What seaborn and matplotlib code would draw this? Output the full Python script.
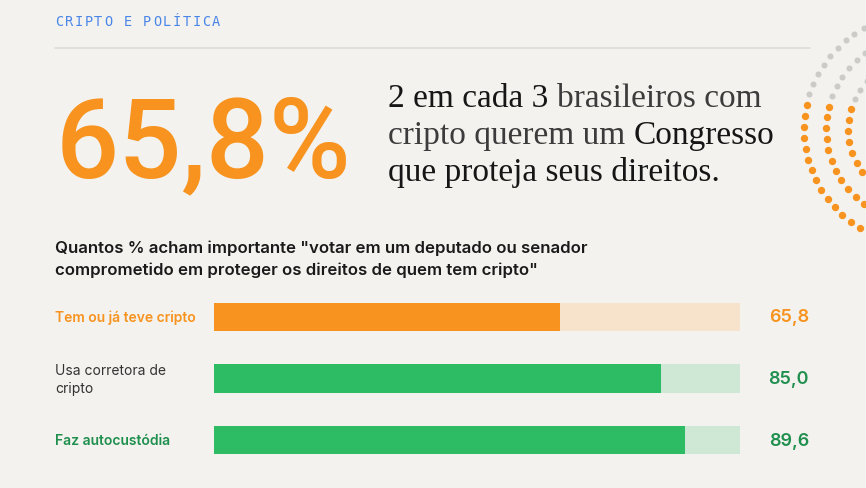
import numpy as np
import pandas as pd
import seaborn as sns
import matplotlib.pyplot as plt

# dados
categorias = ["Tem ou já teve cripto", "Usa corretora de\ncripto", "Faz autocustódia"]
valores = [65.8, 85.0, 89.6]
rotulos_valor = ["65,8", "85,0", "89,6"]
total = [100, 100, 100]

cor_barra = ["#F7931E", "#2DBB63", "#2DBB63"]
cor_fundo = ["#F7E2CB", "#CFE8D6", "#CFE8D6"]
cor_texto = ["#F7931E", "#333333", "#1F8F4E"]
peso_texto = ["semibold", "normal", "semibold"]
cor_valor = ["#F7931E", "#1F8F4E", "#1F8F4E"]

destaque = "65,8%"
titulo = 'Quantos % acham importante "votar em um deputado ou senador\ncomprometido em proteger os direitos de quem tem cripto"'
secao = "CRIPTO E POLÍTICA"

BG = "#F3F2EE"
W, H = 866, 489

sns.set_theme(style="white")
plt.rcParams['font.family'] = ['Inter', 'DejaVu Sans']

fig = plt.figure(figsize=(W / 100, H / 100), dpi=100, facecolor=BG)

# eixo de fundo em pixels
base = fig.add_axes([0, 0, 1, 1])
base.set_xlim(0, W)
base.set_ylim(H, 0)
base.axis("off")
base.set_facecolor(BG)

# cabecalho
for i, ch in enumerate(secao):
    base.text(55 + i * 9.8, 22, ch, fontsize=9.8, family="DejaVu Sans Mono",
              color="#4A86E8", va="center", ha="left")
base.plot([55, 810], [49, 49], color="#DCDCDA", lw=1.2)

# numero grande
base.text(56, 177, destaque, fontsize=80, family="Roboto", weight="medium", color="#F7931E",
          va="baseline", ha="left")

# frase em serifa com pesos diferentes
r = fig.canvas.get_renderer()


def largura(s, **kw):
    t = base.text(0, 0, s, **kw)
    w = t.get_window_extent(r).width
    t.remove()
    return w


linhas = [
    [("2 em cada 3 ", "#161616"), ("brasileiros com", "#3C3C3C")],
    [("cripto querem um ", "#3C3C3C"), ("Congresso", "#161616")],
    [("que proteja seus direitos.", "#161616")],
]
kw = dict(fontsize=24, family="Liberation Serif")
for j, partes in enumerate(linhas):
    prefixo = ""
    for texto, cor in partes:
        dx = largura(prefixo + "x", **kw) - largura("x", **kw) if prefixo else 0
        base.text(388 + dx, 107 + j * 37, texto, color=cor, va="baseline", ha="left", **kw)
        prefixo += texto

# arcos pontilhados
cx, cy = 919, 130
for raio, ini in [(115, 168), (93, 166), (71, 164)]:
    passo = np.degrees(11 / raio)
    th_l = ini + passo * np.arange(0, 30)
    th_g = ini - passo * np.arange(1, 20)
    base.scatter(cx + raio * np.cos(np.radians(th_g)), cy - raio * np.sin(np.radians(th_g)),
                 s=19, color="#CBCBC9", linewidths=0, zorder=3)
    base.scatter(cx + raio * np.cos(np.radians(th_l)), cy - raio * np.sin(np.radians(th_l)),
                 s=28, color="#F7931E", linewidths=0, zorder=3)

# pergunta
base.text(55, 259, titulo, fontsize=12.1, weight="semibold", color="#1A1A1A",
          va="center", ha="left", linespacing=1.5)

# barras
ax = fig.add_axes([214 / W, 1 - 471.75 / H, (740 - 214) / W, 184.5 / H])
df = pd.DataFrame({"cat": categorias, "valor": valores, "total": total})
sns.barplot(data=df, x="total", y="cat", hue="cat", palette=cor_fundo, saturation=1,
            width=0.47, legend=False, ax=ax, orient="h", linewidth=0)
sns.barplot(data=df, x="valor", y="cat", hue="cat", palette=cor_barra, saturation=1,
            width=0.47, legend=False, ax=ax, orient="h", linewidth=0)
ax.set_xlim(0, 100)
ax.set_ylim(2.5, -0.5)
ax.axis("off")

ys = [318, 380, 441]
for i in range(3):
    base.text(55, ys[i], categorias[i], fontsize=10, weight=peso_texto[i], color=cor_texto[i],
              va="center", ha="left", linespacing=1.35)
    base.text(809, ys[i], rotulos_valor[i], fontsize=13, weight="semibold", color=cor_valor[i],
              va="center", ha="right")

fig.savefig("out.png", dpi=100, facecolor=BG)
